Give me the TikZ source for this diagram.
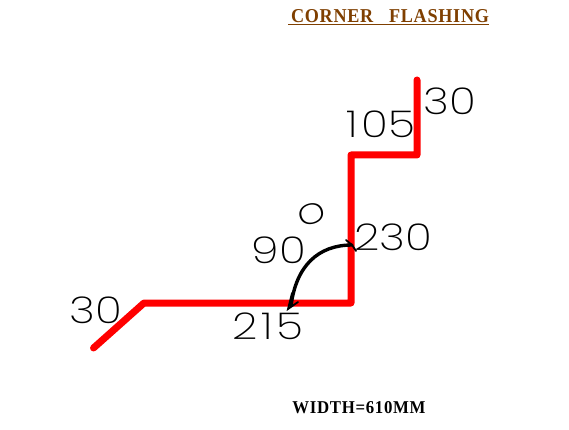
\documentclass[tikz,border=0pt]{standalone}
\usepackage{fontspec}
\setmainfont{Liberation Serif}
\newfontfamily\handfont[UprightFont=* ExtraLight]{Poppins}
\newfontfamily\spacedserif[LetterSpace=4]{Liberation Serif}
\newcommand{\hand}[1]{\scalebox{1.2}[1]{\handfont\fontsize{37}{37}\selectfont #1}}
\tikzset{
  flash/.style={draw=red,line width=7pt,line cap=round,line join=round},
  dimtext/.style={inner sep=0pt,anchor=center,text=black},
  angleline/.style={draw=black,line width=3.4pt,line cap=round,line join=round},
  barb/.style={draw=black,line width=1.8pt,line cap=round},
  titletext/.style={inner sep=0pt},
  notetext/.style={inner sep=0pt,text=black}
}
\definecolor{titlebrown}{RGB}{127,63,0}
\begin{document}
\begin{tikzpicture}[x=1pt,y=-1pt]
\useasboundingbox (0,0) rectangle (569,430);
\fill[white] (0,0) rectangle (569,430);
\coordinate (p1) at (93.5,348);
\coordinate (p2) at (144,303);
\coordinate (p3) at (351,303);
\coordinate (p4) at (351,155);
\coordinate (p5) at (417,155);
\coordinate (p6) at (417,80);
\draw[flash] (p1) -- (p2) -- (p3) -- (p4) -- (p5) -- (p6);
\coordinate (a1) at (352,245);
\coordinate (a2) at (291,306);
\draw[angleline] (a1) .. controls (318,245) and (296,266) .. (a2);
\coordinate (b1) at (346,240);
\coordinate (b2) at (356,251);
\coordinate (b3) at (292,293);
\coordinate (b4) at (298,302);
\coordinate (t2) at (288,309);
\draw[barb] (b1) -- (a1) -- (b2);
\draw[barb] (b3) -- (t2) -- (b4);
\node[titletext] (title) at (390,16) {\resizebox{198pt}{13pt}{\color{titlebrown}\spacedserif\bfseries CORNER\ \ \ FLASHING}};
\coordinate (u1) at (288,25);
\coordinate (u2) at (489,25);
\draw[draw=titlebrown,line width=1pt] (u1) -- (u2);
\node[notetext] (width) at (359,408) {\resizebox{133pt}{12pt}{\spacedserif\bfseries WIDTH=610MM}};
\node[dimtext] (d30a) at (450,101) {\hand{30}};
\node[dimtext] (d105) at (381,124) {\hand{1\hspace{3pt}05}};
\node[dimtext] (d230) at (393,237) {\hand{230}};
\node[dimtext] (d90) at (279,250) {\hand{90}};
\node[dimtext,rotate=15] (deg) at (312,214) {\scalebox{1}[1]{\hand{o}}};
\node[dimtext] (d215) at (268,326) {\hand{2\hspace{3pt}1\hspace{3pt}5}};
\node[dimtext] (d30b) at (96,310) {\hand{30}};
\end{tikzpicture}
\end{document}
